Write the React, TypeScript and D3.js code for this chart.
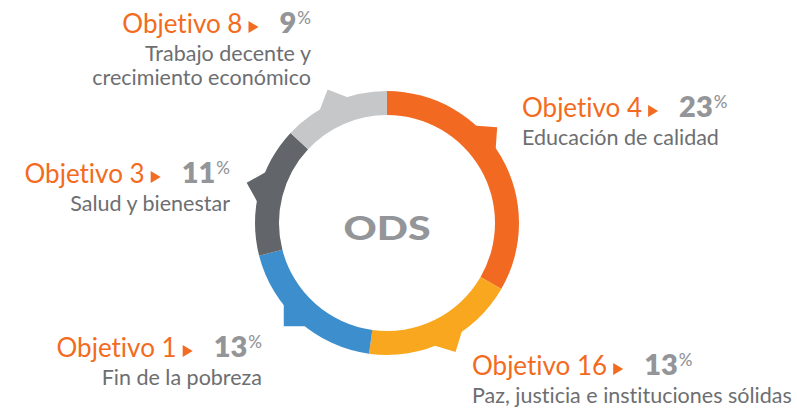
import React, { useEffect, useRef } from 'react';
import * as d3 from 'd3';

// ODS share data, clockwise from 12 o'clock
const goals = ['Objetivo 4', 'Objetivo 16', 'Objetivo 1', 'Objetivo 3', 'Objetivo 8'];
const shares = [23, 13, 13, 11, 9];
const descriptions = [
  ['Educación de calidad'],
  ['Paz, justicia e instituciones sólidas'],
  ['Fin de la pobreza'],
  ['Salud y bienestar'],
  ['Trabajo decente y', 'crecimiento económico'],
];
const colors = ['#f26a22', '#f9a71f', '#3d8ecd', '#626569', '#c6c7c9'];
const centerLabel = 'ODS';

// label placement: anchor x, first baseline, alignment
const labelLayout = [
  { x: 522, y: 117, align: 'start' },
  { x: 472, y: 375, align: 'start' },
  { x: 262, y: 357, align: 'end' },
  { x: 230, y: 183, align: 'end' },
  { x: 311, y: 33, align: 'end' },
];
// direction of the little pointer tab on each segment (degrees, clockwise from top)
const tabAngles = [49, 152, 225, 286, 336];

const orange = '#f26b21';
const numGray = '#939598';
const textGray = '#6d6e71';
const font = 'Lato, "Open Sans", sans-serif';

export default function App() {
  const ref = useRef<SVGSVGElement>(null);

  useEffect(() => {
    const svg = d3.select(ref.current);
    svg.selectAll('*').remove();

    const cx = 387;
    const cy = 223;
    const rOuter = 132;
    const rInner = 108;

    const pie = d3.pie<number>().sort(null).value(d => d);
    const arcs = pie(shares);
    const arc = d3.arc<d3.PieArcDatum<number>>().innerRadius(rInner).outerRadius(rOuter);

    const ring = svg.append('g').attr('transform', `translate(${cx},${cy})`);

    // pointer tabs (90 degree corner sticking out of the ring)
    const tipR = rOuter + 14;
    const edge = 24;
    ring.selectAll('path.tab')
      .data(arcs)
      .enter()
      .append('path')
      .attr('class', 'tab')
      .attr('fill', (d, i) => colors[i])
      .attr('d', (d, i) => {
        const a = (tabAngles[i] * Math.PI) / 180;
        const ux = Math.sin(a);
        const uy = -Math.cos(a);
        const tip: [number, number] = [ux * tipR, uy * tipR];
        const rot = (deg: number): [number, number] => {
          const r = (deg * Math.PI) / 180;
          return [
            tip[0] + edge * (ux * Math.cos(r) - uy * Math.sin(r)),
            tip[1] + edge * (ux * Math.sin(r) + uy * Math.cos(r)),
          ];
        };
        return d3.line()([rot(135), tip, rot(-135), [ux * (rOuter - 8), uy * (rOuter - 8)]]) + 'Z';
      });

    ring.selectAll('path.seg')
      .data(arcs)
      .enter()
      .append('path')
      .attr('class', 'seg')
      .attr('d', arc)
      .attr('fill', (d, i) => colors[i]);

    // center label
    svg.append('text')
      .attr('x', cx)
      .attr('y', 240)
      .attr('text-anchor', 'middle')
      .attr('font-family', font)
      .attr('font-weight', 900)
      .attr('font-size', 33)
      .attr('textLength', 87)
      .attr('lengthAdjust', 'spacingAndGlyphs')
      .attr('fill', numGray)
      .text(centerLabel);

    // callout labels
    labelLayout.forEach((lay, i) => {
      const grp = svg.append('g')
        .attr('font-family', font)
        .style('font-variant-ligatures', 'none');

      const goalText = grp.append('text')
        .attr('y', lay.y)
        .attr('font-size', 26)
        .attr('fill', orange)
        .text(goals[i]);

      const num = grp.append('text')
        .attr('y', lay.y)
        .attr('font-size', 29)
        .attr('font-weight', 800)
        .attr('fill', numGray);
      num.append('tspan').text(shares[i]);
      num.append('tspan')
        .attr('font-size', 17)
        .attr('font-weight', 500)
        .attr('dx', 1)
        .attr('dy', -9)
        .text('%');

      const gw = (goalText.node() as SVGTextElement).getBBox().width;
      const nw = (num.node() as SVGTextElement).getBBox().width;
      const total = gw + 6 + 10 + 21 + nw;
      const x0 = lay.align === 'start' ? lay.x : lay.x - total;

      goalText.attr('x', x0);
      const tx = x0 + gw + 6;
      grp.append('path')
        .attr('d', `M${tx},${lay.y - 12}L${tx + 10},${lay.y - 6}L${tx},${lay.y}Z`)
        .attr('fill', orange);
      num.attr('x', tx + 10 + 21);

      descriptions[i].forEach((line, k) => {
        grp.append('text')
          .attr('x', lay.x)
          .attr('y', lay.y + 28 + k * 24)
          .attr('text-anchor', lay.align)
          .attr('font-size', 21.5)
          .attr('fill', textGray)
          .text(line);
      });
    });
  }, []);

  return (
    <svg
      ref={ref}
      width={797}
      height={408}
      style={{ position: 'absolute', left: 0, top: 0, background: '#fff' }}
    />
  );
}
